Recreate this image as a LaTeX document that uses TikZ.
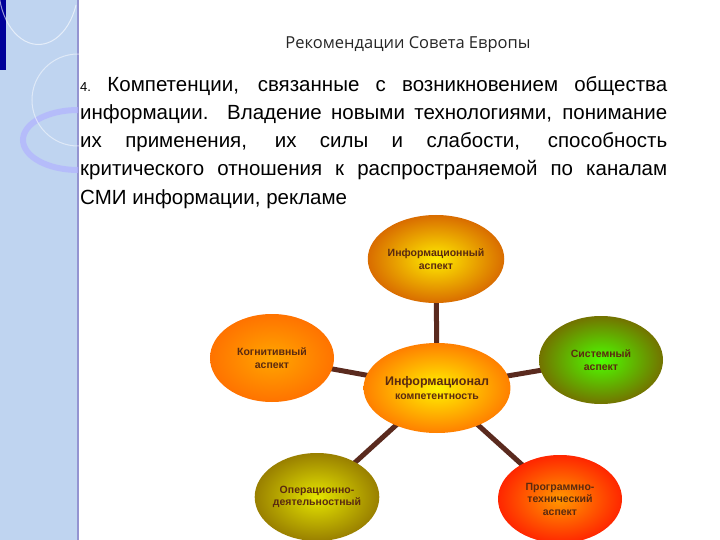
\documentclass[tikz,border=0pt]{standalone}
\usepackage{fontspec}
\setmainfont{Liberation Sans}
\newfontfamily\titlefont{Open Sans}
\usetikzlibrary{shapes.geometric}
\definecolor{txt}{HTML}{5A2A10}
\definecolor{conn}{HTML}{5A2A1E}
\tikzset{
 asp/.style={ellipse,minimum width=124pt,minimum height=88pt,inner sep=0pt,align=center,
   font=\fontsize{10.5}{12.5}\selectfont\bfseries, text=txt},
 conline/.style={draw=conn,line width=5pt}
}
\begin{document}
\begin{tikzpicture}[x=1pt,y=-1pt]
\useasboundingbox (0,0) rectangle (720,540);
\fill[white] (0,0) rectangle (720,540);
\fill[cyan!60!blue!25!white] (0,0) rectangle (78,540);
\draw[blue!40!gray!60,line width=1.2pt] (78,0) -- (78,540);
\fill[blue!60!black] (0,0) rectangle (6,70);
\draw[white,opacity=0.6,line width=1pt] (76,5) arc (20:200:40 and 60);
\draw[blue!30!white,line width=6pt,opacity=0.7] (78,170) arc (90:270:55 and 30);
\draw[white,opacity=0.5,line width=1pt] (78,100) circle[radius=46];
\node[font=\titlefont\fontsize{16.5}{18}\selectfont, text=black!85] (title) at (408,45) {Рекомендации Совета Европы};
\node[anchor=north west,inner sep=0pt,text width=587pt,align=justify,
  font=\fontsize{20.5}{28.2}\selectfont] (body) at (80,76)
 {{\fontsize{13}{15}\selectfont 4.}\hspace{0.8em}Компетенции, связанные с возникновением общества информации. Владение новыми технологиями, понимание их применения, их силы и слабости, способность критического отношения к распространяемой по каналам СМИ информации, рекламе};
\coordinate (c0) at (437,388);
\draw[conline] (436,256) -- (c0);
\draw[conline] (272,358) -- (c0);
\draw[conline] (601,360) -- (c0);
\draw[conline] (317,497) -- (c0);
\draw[conline] (560,499) -- (c0);
\node[asp,inner color=yellow!85!orange,outer color=orange!85!black] (top) at (436,259) {Информационный\\аспект};
\node[asp,inner color=orange!70!yellow,outer color=orange!90!red] (left) at (272,358) {Когнитивный\\аспект};
\node[asp,inner color=green!70!yellow,outer color=olive!90!black] (right) at (601,360) {Системный\\аспект};
\node[asp,inner color=yellow!80!olive,outer color=olive!80!orange] (bl) at (317,497) {Операционно-\\деятельностный};
\node[asp,inner color=orange!80!yellow,outer color=red!70!orange] (br) at (560,499) {Программно-\\технический\\аспект};
\node[asp,minimum width=118pt,minimum height=90pt,inner color=yellow!90!orange,outer color=orange,
  font=\fontsize{12.5}{14}\selectfont\bfseries] (ctr) at (c0) {Информационал\\{\fontsize{10.5}{12}\selectfont компетентность}};
\end{tikzpicture}
\end{document}
